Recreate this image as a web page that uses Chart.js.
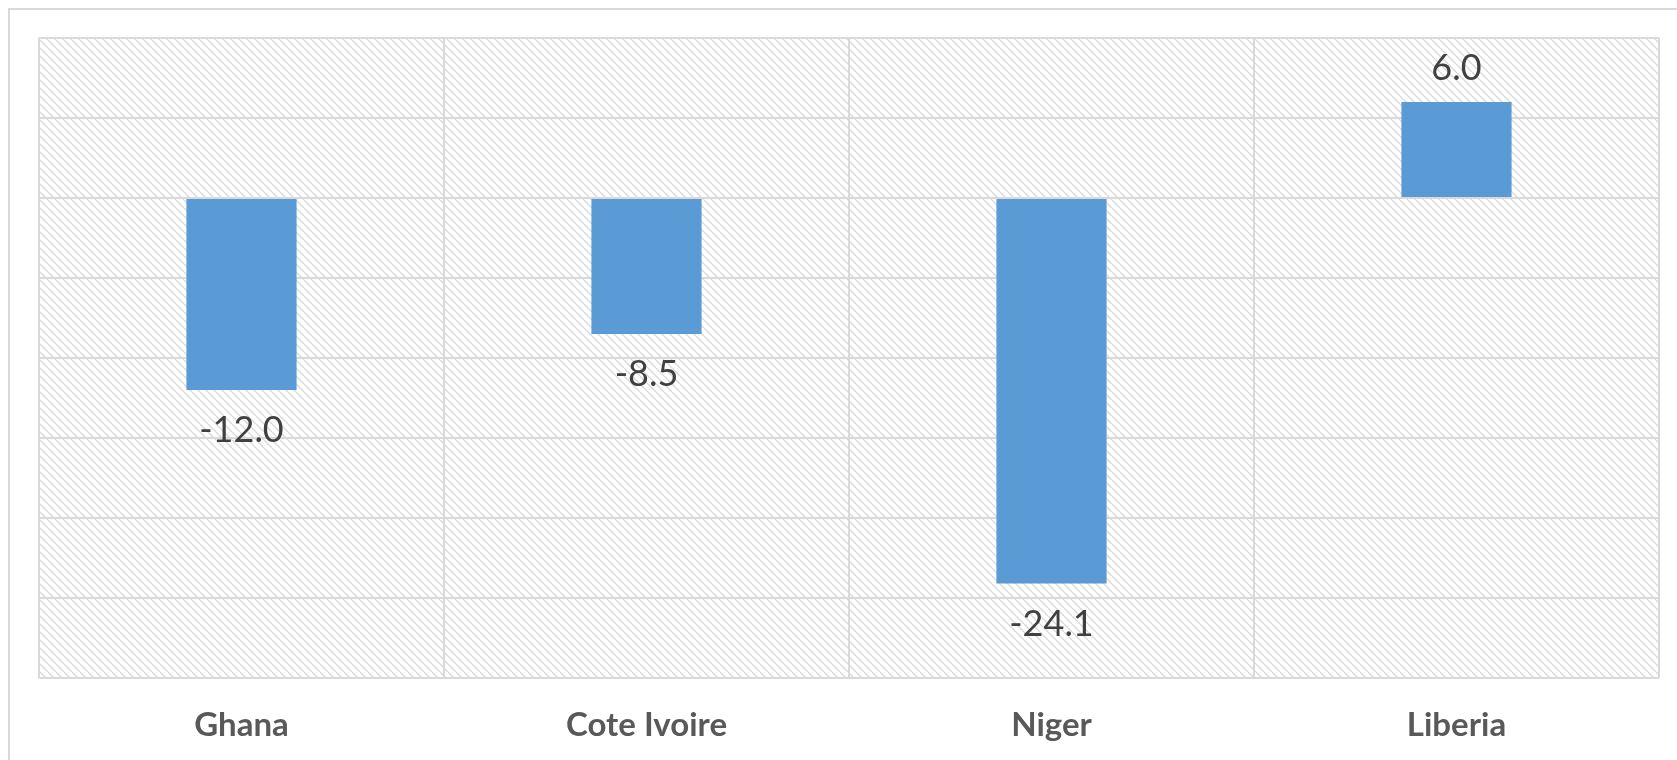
<!DOCTYPE html>
<html>
<head>
<meta charset="utf-8">
<script src="https://cdn.jsdelivr.net/npm/chart.js@4.4.1/dist/chart.umd.min.js"></script>
<style>
  html, body { margin: 0; padding: 0; background: #ffffff; }
  #wrap { width: 1677px; height: 760px; position: relative; }
</style>
</head>
<body>
<div id="wrap"><canvas id="c" width="1677" height="760"></canvas></div>
<script>
const categories = ["Ghana", "Cote Ivoire", "Niger", "Liberia"];
const values = [-12.0, -8.5, -24.1, 6.0];
const yMin = -30;
const yMax = 10;
const yStep = 5;

function makeHatch() {
  const p = document.createElement('canvas');
  p.width = 8; p.height = 8;
  const g = p.getContext('2d');
  g.fillStyle = '#ffffff';
  g.fillRect(0, 0, 8, 8);
  g.strokeStyle = '#dadada';
  g.lineWidth = 1.4;
  for (let o = -8; o <= 8; o += 8) {
    g.beginPath();
    g.moveTo(o, 0);
    g.lineTo(o + 8, 8);
    g.stroke();
  }
  return g.canvas;
}

const bgPlugin = {
  id: 'bg',
  beforeDraw(chart) {
    const ctx = chart.ctx;
    const a = chart.chartArea;
    ctx.save();
    ctx.fillStyle = '#ffffff';
    ctx.fillRect(0, 0, chart.width, chart.height);
    ctx.strokeStyle = '#d9d9d9';
    ctx.lineWidth = 2;
    ctx.beginPath();
    ctx.moveTo(9, chart.height + 5);
    ctx.lineTo(9, 9);
    ctx.lineTo(chart.width + 5, 9);
    ctx.stroke();
    const pat = ctx.createPattern(makeHatch(), 'repeat');
    ctx.fillStyle = pat;
    ctx.fillRect(a.left, a.top, a.right - a.left, a.bottom - a.top);
    ctx.restore();
  }
};

const labelPlugin = {
  id: 'vals',
  afterDatasetsDraw(chart) {
    const ctx = chart.ctx;
    const meta = chart.getDatasetMeta(0);
    ctx.save();
    ctx.font = '36px Lato';
    ctx.fillStyle = '#404040';
    ctx.textAlign = 'center';
    ctx.textBaseline = 'alphabetic';
    meta.data.forEach((bar, i) => {
      const v = values[i];
      const txt = v.toFixed(1);
      if (v < 0) {
        ctx.fillText(txt, bar.x, bar.y + 52);
      } else {
        ctx.fillText(txt, bar.x, bar.y - 22);
      }
    });
    ctx.restore();
  }
};

new Chart(document.getElementById('c'), {
  type: 'bar',
  data: {
    labels: categories,
    datasets: [{
      data: values,
      backgroundColor: '#5b9bd5',
      borderWidth: 0,
      categoryPercentage: 1.0,
      barPercentage: 0.272
    }]
  },
  options: {
    responsive: false,
    animation: false,
    devicePixelRatio: 1,
    layout: { padding: { left: 39, right: 18, top: 38, bottom: 0 } },
    plugins: { legend: { display: false }, tooltip: { enabled: false } },
    scales: {
      x: {
        offset: true,
        grid: { offset: true, color: '#d9d9d9', lineWidth: 2, drawTicks: false },
        border: { display: false },
        ticks: {
          color: '#595959',
          font: { family: 'Lato', weight: 'bold', size: 33 },
          padding: 28
        },
        afterFit(scale) { scale.height = 82; }
      },
      y: {
        min: yMin,
        max: yMax,
        ticks: { display: false, stepSize: yStep },
        grid: { color: '#d9d9d9', lineWidth: 2, drawTicks: false },
        border: { display: false },
        afterFit(scale) { scale.width = 0; }
      }
    }
  },
  plugins: [bgPlugin, labelPlugin]
});
</script>
</body>
</html>
